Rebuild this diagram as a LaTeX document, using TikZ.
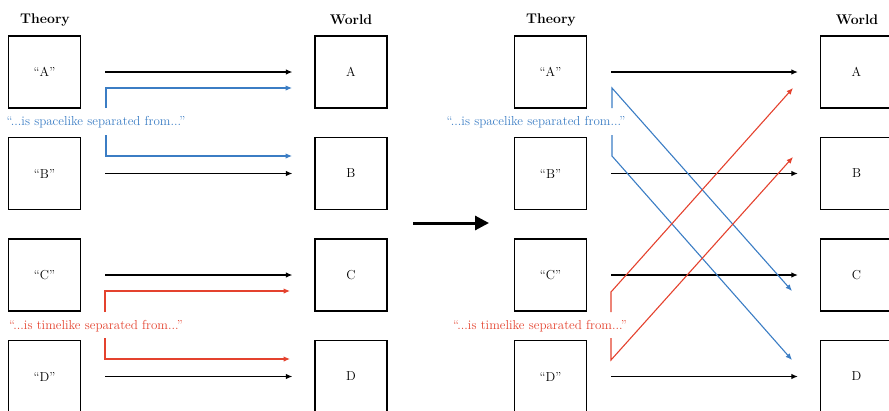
\documentclass[tikz,border=0pt]{standalone}
\usetikzlibrary{arrows.meta}
\definecolor{sblue}{RGB}{59,125,196}
\definecolor{tred}{RGB}{228,66,46}
\begin{document}
\begin{tikzpicture}[x=1pt,y=-1pt, font=\fontsize{13}{15}\selectfont,
  box/.style={draw, line width=1.3pt, minimum size=72pt, inner sep=0pt},
  head/.style={font=\fontsize{14}{16}\selectfont\bfseries},
  arr/.style={line width=1.1pt, -{Latex[length=6.5pt,width=5.5pt]}},
  bigarr/.style={line width=3pt, -{Triangle[length=14pt,width=14pt]}},
  lab/.style={inner sep=0pt},
]
\useasboundingbox (0,0) rectangle (889,410);

% headings
\node[head] (h1) at (45,20) {Theory};
\node[head] (h2) at (351,20) {World};
\node[head] (h3) at (551,20) {Theory};
\node[head] (h4) at (857,20) {World};

% boxes
\foreach \n/\y in {A/72,B/173.5,C/275,D/376.5} {
  \node[box] (t\n) at (44.5,\y) {“\n”};
  \node[box] (w\n) at (351,\y) {\n};
  \node[box] (rt\n) at (550.5,\y) {“\n”};
  \node[box] (rw\n) at (856.5,\y) {\n};
}

% black arrows
\foreach \n in {A,B,C,D} {
  \draw[arr] ([xshift=24pt]t\n.east) -- ([xshift=-22pt]w\n.west);
  \draw[arr] ([xshift=24pt]rt\n.east) -- ([xshift=-22pt]rw\n.west);
}

% labels
\node[lab, text=sblue] (ls) at (96,122) {“...is spacelike separated from...”};
\node[lab, text=tred] (lt) at (96,326) {“...is timelike separated from...”};
\node[lab, text=sblue] (rls) at (536,122) {“...is spacelike separated from...”};
\node[lab, text=tred] (rlt) at (540,326) {“...is timelike separated from...”};

% left panel coloured arrows
\coordinate (b1s) at (106,108); \coordinate (b1e) at (292,88);
\coordinate (b2s) at (106,135); \coordinate (b2e) at (292,156);
\coordinate (r1s) at (105,312); \coordinate (r1e) at (290,291);
\coordinate (r2s) at (105,338); \coordinate (r2e) at (290,359);
\draw[arr, sblue] (b1s) |- (b1e);
\draw[arr, sblue] (b2s) |- (b2e);
\draw[arr, tred] (r1s) |- (r1e);
\draw[arr, tred] (r2s) |- (r2e);

% right panel coloured arrows (crossed)
\coordinate (rb1s) at (612,108); \coordinate (rb1k) at (612,88);  \coordinate (rb1e) at (792,291);
\coordinate (rb2s) at (612,135); \coordinate (rb2k) at (612,156); \coordinate (rb2e) at (792,360);
\coordinate (rr1s) at (611,312); \coordinate (rr1k) at (611,292); \coordinate (rr1e) at (793,88);
\coordinate (rr2s) at (611,338); \coordinate (rr2k) at (611,360); \coordinate (rr2e) at (793,157);
\draw[arr, sblue] (rb1s) -- (rb1k) -- (rb1e);
\draw[arr, sblue] (rb2s) -- (rb2k) -- (rb2e);
\draw[arr, tred] (rr1s) -- (rr1k) -- (rr1e);
\draw[arr, tred] (rr2s) -- (rr2k) -- (rr2e);

% big arrow
\coordinate (bigs) at (413,223);
\coordinate (bige) at (489,223);
\draw[bigarr] (bigs) -- (bige);
\end{tikzpicture}
\end{document}
